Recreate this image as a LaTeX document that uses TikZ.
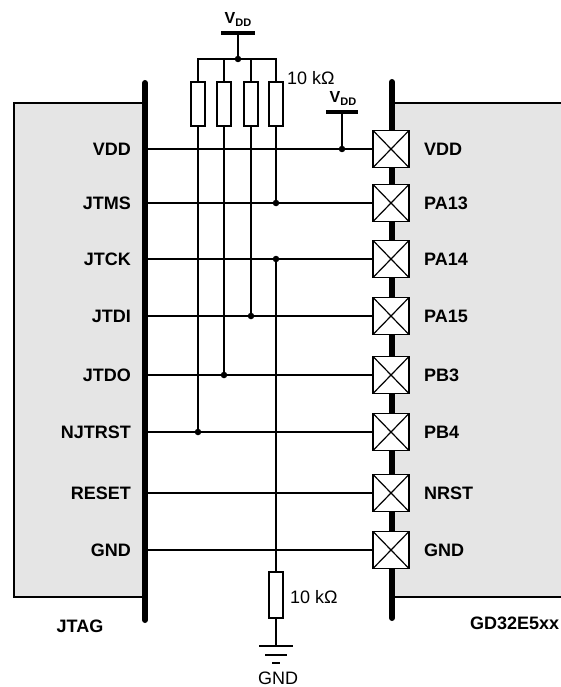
\documentclass[tikz,border=0pt]{standalone}
\usepackage{fontspec}
\setmainfont{Liberation Sans}
\usetikzlibrary{calc}
\definecolor{boxgray}{HTML}{E5E5E5}
\begin{document}
\begin{tikzpicture}[x=1pt,y=-1pt,
  wire/.style={line width=1.4pt},
  bus/.style={line width=6pt,line cap=round},
  boxline/.style={line width=2pt},
  pad/.style={draw,line width=1.8pt,fill=white,minimum width=36pt,minimum height=37pt,inner sep=0pt,
    path picture={\draw[line width=1.2pt] (path picture bounding box.south west) -- (path picture bounding box.north east)
      (path picture bounding box.north west) -- (path picture bounding box.south east);}},
  res/.style={draw,line width=1.8pt,fill=white,minimum width=14pt,minimum height=44pt,inner sep=0pt},
  dot/.style={circle,fill=black,inner sep=0pt,minimum size=6.5pt},
  lbl/.style={font=\fontsize{18}{21}\selectfont\bfseries,inner sep=0pt},
  val/.style={font=\fontsize{18}{21}\selectfont,inner sep=0pt},
  vddtxt/.style={font=\fontsize{16}{16}\selectfont\bfseries,inner sep=0pt},
  vdd/.style={line width=4pt},
  gnd/.style={line width=2pt}
]
\useasboundingbox (0,0) rectangle (560,687);
% boxes
\fill[boxgray] (14,103) rectangle (145,597);
\draw[boxline] (145,103) -- (14,103) -- (14,597) -- (145,597);
\fill[boxgray] (392,103) rectangle (562,597);
\draw[boxline] (392,103) -- (562,103) (392,597) -- (562,597);
% bars
\coordinate (lbt) at (145,83); \coordinate (lbb) at (145,620);
\coordinate (rbt) at (392,82); \coordinate (rbb) at (392,618);
\draw[bus] (lbt) -- (lbb);
\draw[bus] (rbt) -- (rbb);
% rows
\foreach \n/\y in {1/149,2/203,3/259,4/316,5/375,6/432,7/493,8/550}{
  \coordinate (L\n) at (145,\y);
  \node[pad] (P\n) at (391,\y) {};
  \draw[wire] (L\n) -- (P\n.west);
}
% labels left
\foreach \n/\t in {1/VDD,2/JTMS,3/JTCK,4/JTDI,5/JTDO,6/NJTRST,7/RESET,8/GND}{
  \node[lbl,anchor=east] (lt\n) at ($(L\n)+(-14,0)$) {\t};
}
\foreach \n/\t in {1/VDD,2/PA13,3/PA14,4/PA15,5/PB3,6/PB4,7/NRST,8/GND}{
  \node[lbl,anchor=west] (rt\n) at ($(P\n.east)+(14,0)$) {\t};
}
\node[lbl] (jtag) at (80,626) {JTAG};
\node[lbl,anchor=west] (gd) at (470,623) {GD32E5xx};
% top resistors
\node[res] (R1) at (198,104) {};
\node[res] (R2) at (224,104) {};
\node[res] (R3) at (251,104) {};
\node[res] (R4) at (276,104) {};
\coordinate (T1) at (198,59); \coordinate (T4) at (276,59);
\node[dot] (J0) at (238,59) {};
\coordinate (VS) at (238,33);
\draw[vdd] (221,33) -- (255,33);
\draw[wire] (VS) -- (J0);
\draw[wire] (R1.north) -- (T1) -- (T4) -- (R4.north);
\draw[wire] (R2.north) -- (R2.north |- T1);
\draw[wire] (R3.north) -- (R3.north |- T1);
\node[vddtxt] (vddl1) at (238,19) {V\raisebox{-3pt}{\fontsize{11}{11}\selectfont DD}};
\node[val,anchor=west] (rl1) at (287,78) {10 kΩ};
% junctions
\node[dot] (D6) at (198,432) {};
\node[dot] (D5) at (224,375) {};
\node[dot] (D4) at (251,316) {};
\node[dot] (D2) at (276,203) {};
\node[dot] (D3) at (276,259) {};
\draw[wire] (R1.south) -- (D6);
\draw[wire] (R2.south) -- (D5);
\draw[wire] (R3.south) -- (D4);
\draw[wire] (R4.south) -- (D2);
% second VDD
\node[dot] (D1) at (342,149) {};
\coordinate (VS2) at (342,112);
\draw[vdd] (326,112) -- (358,112);
\draw[wire] (VS2) -- (D1);
\node[vddtxt] (vddl2) at (343,98) {V\raisebox{-3pt}{\fontsize{11}{11}\selectfont DD}};
% bottom resistor
\node[res,minimum height=46pt] (RB) at (276,595) {};
\draw[wire] (D3) -- (RB.north);
\coordinate (G0) at (276,646);
\draw[wire] (RB.south) -- (G0);
\draw[gnd] (259,646) -- (293,646);
\draw[gnd] (265,655) -- (287,655);
\draw[gnd] (272,663) -- (280,663);
\node[val,anchor=west] (rl2) at (290,597) {10 kΩ};
\node[val] (gndl) at (278,678) {GND};
\end{tikzpicture}
\end{document}
